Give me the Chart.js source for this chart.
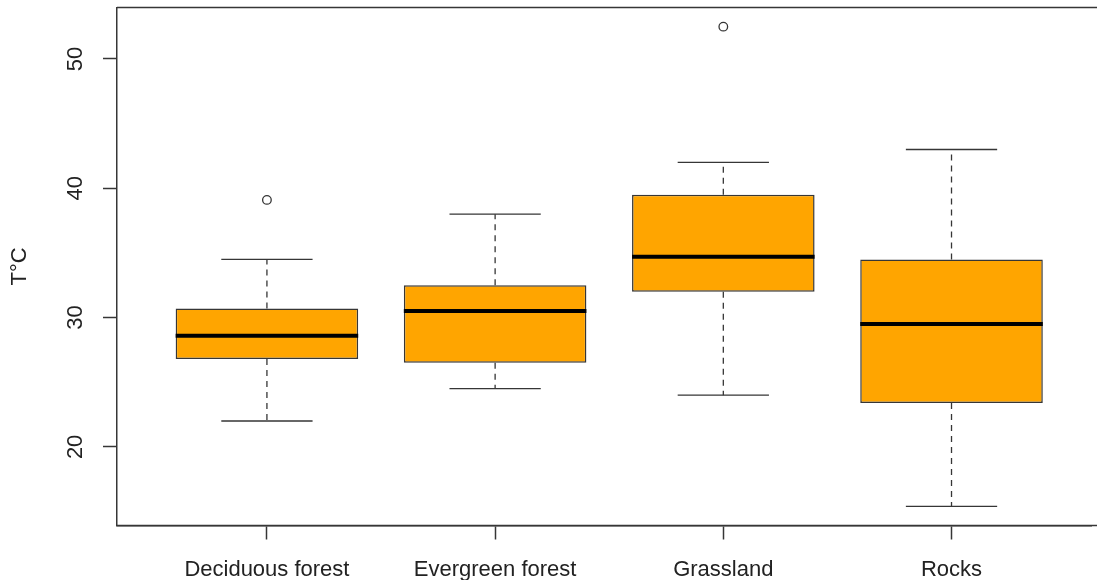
<!DOCTYPE html>
<html>
<head>
<meta charset="utf-8">
<script src="https://cdn.jsdelivr.net/npm/chart.js@4/dist/chart.umd.min.js"></script>
<style>
  html, body { margin: 0; padding: 0; background: #ffffff; overflow: hidden; }
  #wrap { width: 1097px; height: 580px; }
</style>
</head>
<body>
<div id="wrap"><canvas id="c" width="1097" height="580"></canvas></div>
<script>
// Temperature by habitat: five-number summaries plus outliers
const categories  = ['Deciduous forest', 'Evergreen forest', 'Grassland', 'Rocks'];
const whiskerLow  = [22.0, 24.5, 24.0, 15.4];
const q1          = [26.8, 26.5, 32.0, 23.4];
const median      = [28.6, 30.5, 34.7, 29.5];
const q3          = [30.7, 32.5, 39.5, 34.5];
const whiskerHigh = [34.5, 38.0, 42.0, 43.0];
const outlierGroup = [1, 3];
const outlierValue = [39.1, 52.5];
const yTicks = [20, 30, 40, 50];

const FONT = "'Liberation Sans', Arial, sans-serif";
const INK = '#363636';

const boxData = categories.map((c, i) => ({ x: i + 1, y: [q1[i], q3[i]] }));
const outlierData = outlierGroup.map((g, i) => ({ x: g, y: outlierValue[i] }));

// whiskers with staples (behind boxes), medians (on top), frame and y tick labels
const boxplotParts = {
  id: 'boxplotParts',
  beforeDatasetsDraw(chart) {
    const { ctx, scales: { x, y } } = chart;
    const bars = chart.getDatasetMeta(0).data;
    ctx.save();
    ctx.strokeStyle = INK;
    ctx.lineWidth = 1.3;
    categories.forEach((c, i) => {
      const px = x.getPixelForValue(i + 1);
      const half = bars[i].width / 4;
      // dashed whiskers
      ctx.setLineDash([6, 5]);
      ctx.beginPath();
      ctx.moveTo(px, y.getPixelForValue(q3[i]));
      ctx.lineTo(px, y.getPixelForValue(whiskerHigh[i]));
      ctx.moveTo(px, y.getPixelForValue(q1[i]));
      ctx.lineTo(px, y.getPixelForValue(whiskerLow[i]));
      ctx.stroke();
      // staples
      ctx.setLineDash([]);
      ctx.beginPath();
      const yh = y.getPixelForValue(whiskerHigh[i]);
      const yl = y.getPixelForValue(whiskerLow[i]);
      ctx.moveTo(px - half, yh); ctx.lineTo(px + half, yh);
      ctx.moveTo(px - half, yl); ctx.lineTo(px + half, yl);
      ctx.stroke();
    });
    ctx.restore();
  },
  afterDatasetsDraw(chart) {
    const { ctx, scales: { x, y } } = chart;
    const bars = chart.getDatasetMeta(0).data;
    ctx.save();
    ctx.strokeStyle = '#000000';
    ctx.lineWidth = 4;
    ctx.lineCap = 'butt';
    categories.forEach((c, i) => {
      const b = bars[i];
      const py = y.getPixelForValue(median[i]);
      ctx.beginPath();
      ctx.moveTo(b.x - b.width / 2, py);
      ctx.lineTo(b.x + b.width / 2, py);
      ctx.stroke();
    });
    ctx.restore();
  },
  afterDraw(chart) {
    const { ctx, chartArea: a, scales: { y } } = chart;
    ctx.save();
    // frame: top and bottom edges run to the canvas edge
    ctx.strokeStyle = INK;
    ctx.lineWidth = 1.5;
    ctx.beginPath();
    ctx.moveTo(a.left, a.top);
    ctx.lineTo(a.right + 10, a.top);
    ctx.moveTo(a.left, a.bottom);
    ctx.lineTo(a.right + 10, a.bottom);
    ctx.stroke();
    // y tick labels, rotated like the axis title
    ctx.fillStyle = '#222222';
    ctx.font = '22px ' + FONT;
    ctx.textAlign = 'center';
    ctx.textBaseline = 'middle';
    yTicks.forEach(v => {
      ctx.save();
      ctx.translate(75.5, y.getPixelForValue(v));
      ctx.rotate(-Math.PI / 2);
      ctx.fillText(String(v), 0, 0);
      ctx.restore();
    });
    ctx.restore();
  }
};

new Chart(document.getElementById('c'), {
  type: 'bar',
  data: {
    datasets: [
      {
        type: 'bar',
        data: boxData,
        backgroundColor: '#FFA500',
        borderColor: INK,
        borderWidth: 1.5,
        borderSkipped: false,
        categoryPercentage: 0.8,
        barPercentage: 1.0,
        order: 2
      },
      {
        type: 'scatter',
        data: outlierData,
        pointStyle: 'circle',
        pointRadius: 4.3,
        pointBorderWidth: 1.3,
        pointBorderColor: INK,
        pointBackgroundColor: 'rgba(0,0,0,0)',
        order: 1
      }
    ]
  },
  options: {
    responsive: false,
    animation: false,
    devicePixelRatio: 1,
    layout: { padding: { top: 7.5, left: 0, right: 0, bottom: 0 } },
    plugins: { legend: { display: false }, tooltip: { enabled: false } },
    scales: {
      x: {
        type: 'linear',
        offset: false,
        min: 0.343,
        max: 4.613,
        afterFit: s => { s.height = 54.5; s.paddingRight = 0; s.paddingLeft = 0; },
        afterBuildTicks: s => { s.ticks = categories.map((c, i) => ({ value: i + 1 })); },
        grid: { display: true, offset: false, drawOnChartArea: false, drawTicks: true, tickLength: 14, color: INK, tickWidth: 1.5 },
        border: { display: true, color: INK, width: 1.5 },
        ticks: {
          autoSkip: false,
          maxRotation: 0,
          padding: 17,
          color: '#222222',
          font: { size: 22, family: FONT },
          callback: v => categories[Math.round(v) - 1] || ''
        }
      },
      y: {
        type: 'linear',
        min: 13.92,
        max: 53.98,
        afterFit: s => { s.width = 117; },
        afterBuildTicks: s => { s.ticks = yTicks.map(v => ({ value: v })); },
        grid: { display: true, drawOnChartArea: false, drawTicks: true, tickLength: 14, color: INK, tickWidth: 1.5 },
        border: { display: true, color: INK, width: 1.5 },
        ticks: { display: false },
        title: {
          display: true,
          text: 'T°C',
          color: '#222222',
          font: { size: 22, family: FONT },
          padding: { top: 6.8, bottom: 0 }
        }
      }
    }
  },
  plugins: [boxplotParts]
});
</script>
</body>
</html>
